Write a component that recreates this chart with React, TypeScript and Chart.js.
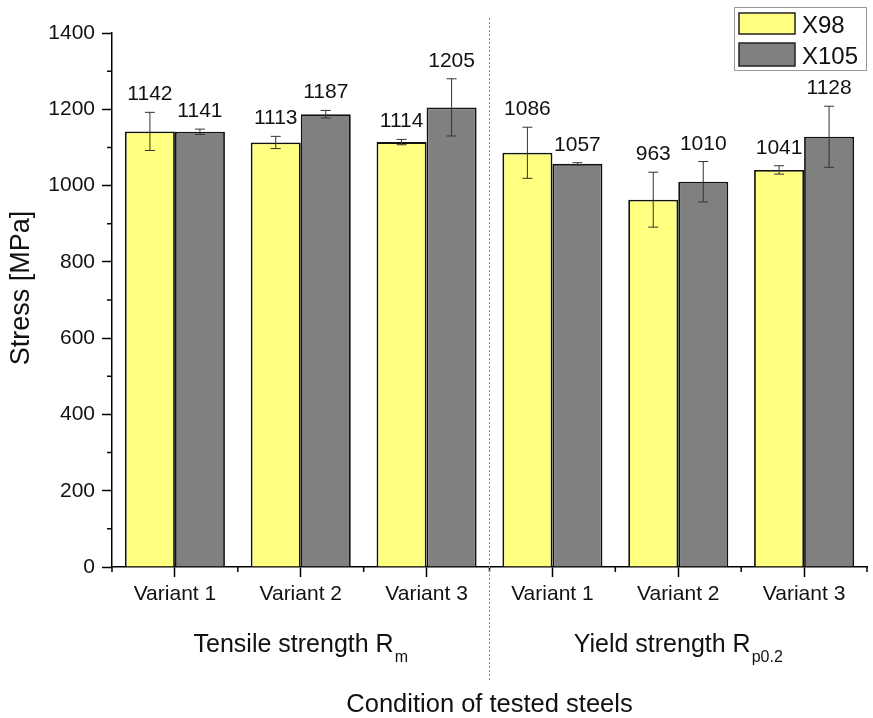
import React, { useEffect, useRef } from "react";
import { Chart, registerables } from "chart.js";

Chart.register(...registerables);

const categories = ["Variant 1", "Variant 2", "Variant 3", "Variant 1", "Variant 2", "Variant 3"];
const groupNames = ["Tensile strength R", "Yield strength R"];
const groupSubs = ["m", "p0.2"];
const seriesNames = ["X98", "X105"];
const x98Values = [1142, 1113, 1114, 1086, 963, 1041];
const x98Errors = [50, 16, 7, 67, 72, 11];
const x105Values = [1141, 1187, 1205, 1057, 1010, 1128];
const x105Errors = [7, 10, 75, 3, 53, 80];
const yMax = 1400;
const yStep = 200;
const xTitle = "Condition of tested steels";
const yTitle = "Stress [MPa]";

const FONT = "'Liberation Sans', Arial, sans-serif";
const TEXT = "#111";
const YELLOW = "#ffff80";
const GRAY = "#808080";

const values = [x98Values, x105Values];
const errors = [x98Errors, x105Errors];
const colors = [YELLOW, GRAY];

const overlayPlugin = {
  id: "overlay",
  afterDatasetsDraw(chart: any) {
    const ctx = chart.ctx;
    const y = chart.scales.y;
    ctx.save();
    for (let i = 0; i < 2; i++) {
      const meta = chart.getDatasetMeta(i);
      meta.data.forEach((bar: any, j: number) => {
        const v = values[i][j];
        const e = errors[i][j];
        const yt = y.getPixelForValue(v + e);
        const yb = y.getPixelForValue(v - e);
        const x = bar.x;
        ctx.strokeStyle = "#333";
        ctx.lineWidth = 1;
        ctx.beginPath();
        ctx.moveTo(x, yt);
        ctx.lineTo(x, yb);
        ctx.moveTo(x - 5, yt);
        ctx.lineTo(x + 5, yt);
        ctx.moveTo(x - 5, yb);
        ctx.lineTo(x + 5, yb);
        ctx.stroke();
        ctx.fillStyle = TEXT;
        ctx.font = `21px ${FONT}`;
        ctx.textAlign = "center";
        ctx.textBaseline = "alphabetic";
        ctx.fillText(String(v), x, yt - 12);
      });
    }
    ctx.restore();
  },
  afterDraw(chart: any) {
    const ctx = chart.ctx;
    const xs = chart.scales.x;
    const ys = chart.scales.y;
    const area = chart.chartArea;
    ctx.save();
    // minor ticks y
    ctx.strokeStyle = "#000";
    ctx.lineWidth = 1.5;
    ctx.beginPath();
    for (let v = yStep / 2; v < yMax; v += yStep) {
      const py = ys.getPixelForValue(v);
      ctx.moveTo(area.left - 5, py);
      ctx.lineTo(area.left, py);
    }
    // minor ticks x at boundaries
    const n = categories.length;
    const step = (xs.getPixelForValue(n - 1) - xs.getPixelForValue(0)) / (n - 1);
    for (let k = 0; k <= n; k++) {
      const px = xs.getPixelForValue(0) - step / 2 + k * step;
      ctx.moveTo(px, area.bottom);
      ctx.lineTo(px, area.bottom + 5);
    }
    ctx.stroke();

    // separator
    const sepX = (xs.getPixelForValue(2) + xs.getPixelForValue(3)) / 2;
    ctx.strokeStyle = "#888";
    ctx.lineWidth = 1;
    ctx.setLineDash([2, 2]);
    ctx.beginPath();
    ctx.moveTo(sepX, 18);
    ctx.lineTo(sepX, 682);
    ctx.stroke();
    ctx.setLineDash([]);

    // group labels
    ctx.fillStyle = TEXT;
    ctx.textBaseline = "alphabetic";
    ctx.textAlign = "left";
    for (let g = 0; g < 2; g++) {
      const cx = (xs.getPixelForValue(g * 3) + xs.getPixelForValue(g * 3 + 2)) / 2;
      ctx.font = `25px ${FONT}`;
      const w1 = ctx.measureText(groupNames[g]).width;
      ctx.font = `16px ${FONT}`;
      const w2 = ctx.measureText(groupSubs[g]).width;
      const sx = cx - (w1 + w2 + 1) / 2;
      ctx.font = `25px ${FONT}`;
      ctx.fillText(groupNames[g], sx, 652);
      ctx.font = `16px ${FONT}`;
      ctx.fillText(groupSubs[g], sx + w1 + 1, 662);
    }

    // x title
    ctx.font = `25.5px ${FONT}`;
    ctx.textAlign = "center";
    ctx.fillText(xTitle, sepX, 712);

    // y title
    ctx.save();
    ctx.translate(22, 288);
    ctx.rotate(-Math.PI / 2);
    ctx.font = `27px ${FONT}`;
    ctx.textAlign = "center";
    ctx.textBaseline = "middle";
    ctx.fillText(yTitle, 0, 0);
    ctx.restore();

    // legend
    const lx = area.right - 133;
    ctx.strokeStyle = "#999";
    ctx.lineWidth = 1;
    ctx.strokeRect(lx + 0.5, 7.5, 132, 63);
    for (let i = 0; i < 2; i++) {
      const top = i === 0 ? 13 : 43;
      const h = i === 0 ? 21 : 23;
      ctx.fillStyle = colors[i];
      ctx.fillRect(lx + 5, top, 56, h);
      ctx.strokeStyle = "#222";
      ctx.lineWidth = 1.5;
      ctx.strokeRect(lx + 5, top, 56, h);
      ctx.fillStyle = TEXT;
      ctx.font = `24px ${FONT}`;
      ctx.textAlign = "left";
      ctx.textBaseline = "alphabetic";
      ctx.fillText(seriesNames[i], lx + 68, i === 0 ? 33 : 64);
    }
    ctx.restore();
  },
};

export default function App() {
  const ref = useRef<HTMLCanvasElement | null>(null);
  useEffect(() => {
    document.body.style.margin = "0";
    const canvas = ref.current!;
    const chart = new Chart(canvas, {
      type: "bar",
      data: {
        labels: categories,
        datasets: [
          {
            label: seriesNames[0],
            data: x98Values,
            backgroundColor: YELLOW,
            borderColor: "#111",
            borderWidth: 1.8,
            categoryPercentage: 0.795,
            barPercentage: 1,
          },
          {
            label: seriesNames[1],
            data: x105Values,
            backgroundColor: GRAY,
            borderColor: "#111",
            borderWidth: 1.8,
            categoryPercentage: 0.795,
            barPercentage: 1,
          },
        ],
      },
      options: {
        animation: false,
        responsive: false,
        devicePixelRatio: 1,
        layout: { padding: { left: 0, right: 6, top: 33, bottom: 0 } },
        plugins: {
          legend: { display: false },
          tooltip: { enabled: false },
        },
        scales: {
          x: {
            type: "category",
            offset: true,
            grid: {
              display: true,
              offset: false,
              drawOnChartArea: false,
              drawTicks: true,
              tickLength: 10,
              tickColor: "#000",
              tickWidth: 1.5,
            },
            border: { display: true, color: "#000", width: 1.5 },
            ticks: {
              color: TEXT,
              font: { family: FONT, size: 21 },
              padding: 5,
              maxRotation: 0,
              autoSkip: false,
            },
            afterFit(scale: any) {
              scale.height = 151;
            },
          },
          y: {
            min: 0,
            max: yMax,
            grid: {
              display: true,
              drawOnChartArea: false,
              drawTicks: true,
              tickLength: 10,
              tickColor: "#000",
              tickWidth: 1.5,
            },
            border: { display: true, color: "#000", width: 1.5 },
            ticks: {
              stepSize: yStep,
              color: TEXT,
              font: { family: FONT, size: 21 },
              padding: 7,
              callback: (v: any) => String(v),
            },
            afterFit(scale: any) {
              scale.width = 112;
            },
          },
        },
      },
      plugins: [overlayPlugin],
    });
    return () => chart.destroy();
  }, []);
  return (
    <div style={{ width: 873, height: 718, background: "#fff" }}>
      <canvas ref={ref} width={873} height={718} style={{ display: "block" }} />
    </div>
  );
}
